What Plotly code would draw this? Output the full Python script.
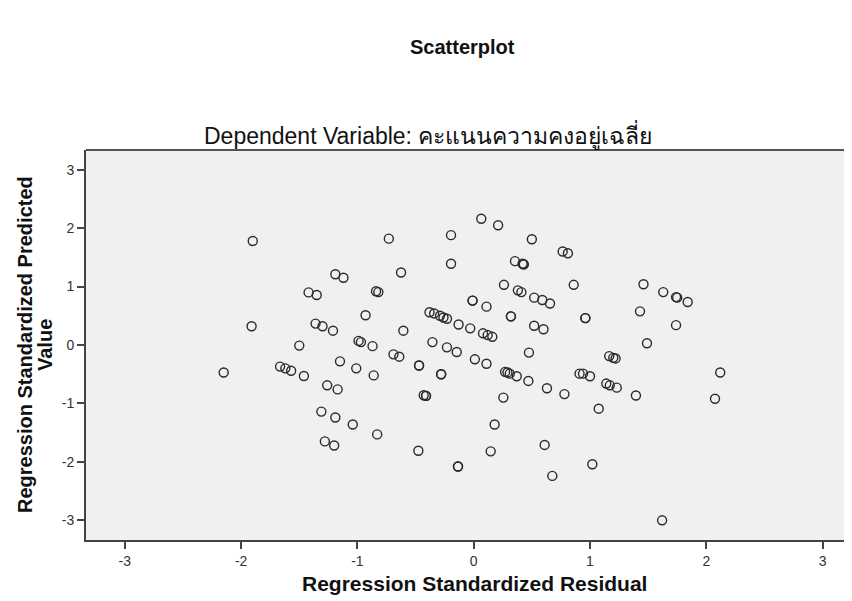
import plotly.graph_objects as go

# Regression Standardized Residual (x) and Predicted Value (y)
residual = [
    -1.90, -1.91, -2.15, -1.19, -1.12, -1.42, -1.35, -0.84, -0.82, -0.93,
    -1.36, -1.30, -1.21, -0.99, -0.97, -0.87, -1.50, -1.15, -1.01, -0.86,
    -1.665, -1.62, -1.57, -1.46, -1.26, -1.17,
    -0.73, -0.625, -0.195, -0.195, 0.065, 0.21, 0.50, 0.765, 0.81,
    0.355, 0.42, 0.43, 0.43, 0.86, 0.26, 0.38, 0.41, 0.52, 0.59, 0.656,
    -0.01, -0.01, 0.11, 0.32, 0.32,
    -0.38, -0.34, -0.29, -0.26, -0.23,
    -0.13, -0.03, 0.08, 0.12, 0.16, 0.475, 0.52, 0.60,
    -0.605, -0.355, -0.23, -0.146, 0.01, 0.11, -0.69, -0.64,
    -0.47, -0.47, -0.28, -0.28,
    0.27, 0.29, 0.31, 0.37, 0.47, -0.43, -0.41, -0.41, 0.63, 0.78, 0.255,
    -1.31, -1.19, -1.04, -0.83, -1.28, -1.20, -0.476,
    -0.135, -0.135, 0.18, 0.146, 0.61, 0.676, 0.91,
    1.49, 1.165, 1.20, 1.22, 0.94, 1.00, 1.14, 1.17, 1.23, 1.395, 1.075,
    2.12, 2.075, 1.02, 1.62,
    0.96, 0.96, 1.46, 1.43, 1.63, 1.74, 1.75, 1.84, 1.74,
]
predicted = [
    1.78, 0.32, -0.47, 1.21, 1.15, 0.90, 0.855, 0.92, 0.905, 0.51,
    0.366, 0.32, 0.245, 0.07, 0.05, -0.02, -0.01, -0.28, -0.40, -0.52,
    -0.37, -0.40, -0.44, -0.53, -0.69, -0.76,
    1.82, 1.24, 1.88, 1.39, 2.16, 2.05, 1.81, 1.60, 1.57,
    1.435, 1.39, 1.38, 1.38, 1.03, 1.03, 0.935, 0.905, 0.81, 0.77, 0.71,
    0.76, 0.76, 0.656, 0.49, 0.49,
    0.56, 0.54, 0.50, 0.47, 0.45,
    0.35, 0.285, 0.20, 0.17, 0.14, -0.13, 0.33, 0.27,
    0.245, 0.05, -0.04, -0.12, -0.245, -0.32, -0.16, -0.20,
    -0.35, -0.35, -0.50, -0.50,
    -0.46, -0.47, -0.49, -0.535, -0.615, -0.86, -0.87, -0.87, -0.74, -0.84, -0.90,
    -1.14, -1.24, -1.36, -1.53, -1.65, -1.72, -1.81,
    -2.08, -2.08, -1.36, -1.82, -1.71, -2.24, -0.49,
    0.03, -0.19, -0.22, -0.23, -0.49, -0.535, -0.66, -0.69, -0.73, -0.865, -1.09,
    -0.47, -0.92, -2.04, -3.00,
    0.46, 0.46, 1.04, 0.576, 0.905, 0.82, 0.81, 0.735, 0.34,
]

tick_vals = [-3, -2, -1, 0, 1, 2, 3]
tick_text = ["-3", "-2", "-1", "0", "1", "2", "3"]

FONT = "Liberation Sans, Arial, sans-serif"
AXIS_COLOR = "#444444"


def px(sx):
    return (sx - 86) / 766


def py(sy):
    return (540 - sy) / 390


fig = go.Figure()
fig.add_trace(go.Scatter(
    x=residual, y=predicted, mode="markers",
    marker=dict(symbol="circle-open", size=9, color="#2a2a2a",
                line=dict(width=1.4, color="#2a2a2a")),
    showlegend=False, hoverinfo="x+y",
))

fig.update_layout(
    width=844, height=593,
    margin=dict(l=78, r=0, t=142, b=61),
    paper_bgcolor="white", plot_bgcolor="#f0f0f0",
    font=dict(family=FONT, color="#333333", size=14),
    xaxis=dict(range=[-3.334, 3.253], tickvals=tick_vals, ticktext=tick_text,
               showgrid=False, zeroline=False, showline=True, linecolor=AXIS_COLOR,
               linewidth=2, ticks="outside", ticklen=7, tickwidth=1.5,
               tickcolor=AXIS_COLOR, tickfont=dict(size=14, color="#333333")),
    yaxis=dict(range=[-3.337, 3.337], tickvals=tick_vals, ticktext=tick_text,
               showgrid=False, zeroline=False, showline=True, linecolor=AXIS_COLOR,
               linewidth=2, ticks="outside", ticklen=7, tickwidth=1.5,
               tickcolor=AXIS_COLOR, tickfont=dict(size=14, color="#333333")),
    shapes=[dict(type="line", xref="paper", yref="paper", x0=0, x1=1, y0=1, y1=1,
                 line=dict(color="#555555", width=2))],
    annotations=[
        dict(text="<b>Scatterplot</b>", xref="paper", yref="paper",
             x=px(462), y=py(47), xanchor="center", yanchor="middle",
             showarrow=False, font=dict(size=20, color="#111111", family=FONT)),
        dict(text="Dependent Variable: คะแนนความคงอยู่เฉลี่ย", xref="paper", yref="paper",
             x=px(428), y=py(135), xanchor="center", yanchor="middle",
             showarrow=False, font=dict(size=23, color="#111111",
                                        family="Liberation Sans, Noto Sans, sans-serif")),
        dict(text="<b>Regression Standardized Residual</b>", xref="paper", yref="paper",
             x=px(474), y=py(583), xanchor="center", yanchor="middle",
             showarrow=False, font=dict(size=21, color="#111111", family=FONT)),
        dict(text="<b>Regression Standardized Predicted</b>", xref="paper", yref="paper",
             x=px(25), y=py(345), xanchor="center", yanchor="middle",
             textangle=-90, showarrow=False,
             font=dict(size=20, color="#111111", family=FONT)),
        dict(text="<b>Value</b>", xref="paper", yref="paper",
             x=px(45), y=py(345), xanchor="center", yanchor="middle",
             textangle=-90, showarrow=False,
             font=dict(size=20, color="#111111", family=FONT)),
    ],
)

fig.write_html("out.html")
